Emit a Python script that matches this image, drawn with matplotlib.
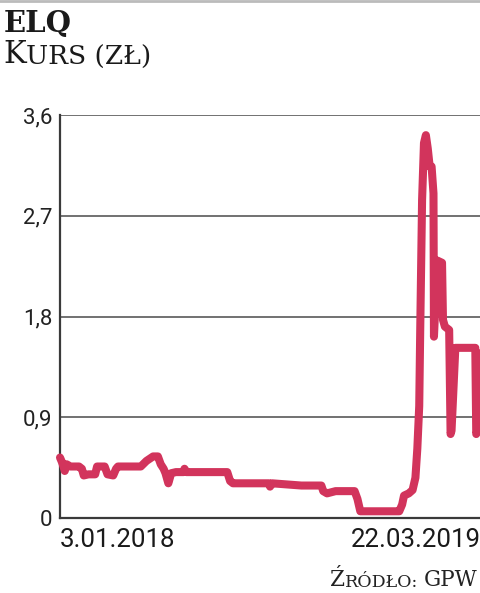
import matplotlib.pyplot as plt
from matplotlib.lines import Line2D

# days since 3.01.2018 and closing price (zl)
days = [0, 2, 4, 5, 7, 11, 20, 23, 25, 30, 37, 39, 47, 50, 56, 59, 61,
        85, 91, 98, 103, 106, 109, 111, 114, 117, 122, 130, 131, 133,
        176, 179, 182, 220, 221, 223, 254, 275, 277, 281, 290, 310, 313,
        316, 354, 357, 360, 362, 367, 371, 374, 376, 378, 379, 381, 383,
        385, 387, 389, 391, 393, 393.5, 397, 402, 403, 405, 409.5, 411,
        412, 416, 437, 438, 439.5, 441.5]
price = [0.54, 0.50, 0.45, 0.42, 0.48, 0.46, 0.46, 0.44, 0.38, 0.39, 0.39,
         0.46, 0.46, 0.39, 0.38, 0.44, 0.46, 0.46, 0.51, 0.55, 0.55, 0.48,
         0.44, 0.40, 0.31, 0.40, 0.41, 0.41, 0.44, 0.41, 0.41, 0.33, 0.31,
         0.31, 0.28, 0.31, 0.29, 0.29, 0.24, 0.22, 0.24, 0.24, 0.17, 0.06,
         0.06, 0.06, 0.12, 0.20, 0.22, 0.25, 0.36, 0.62, 1.00, 1.65, 2.84,
         3.35, 3.42, 3.30, 3.14, 3.14, 2.90, 1.62, 2.30, 2.28, 1.77, 1.71,
         1.68, 0.75, 0.78, 1.52, 1.52, 0.75, 0.78, 1.47]

yticks = [0, 0.9, 1.8, 2.7, 3.6]
ylabels = ['0', '0,9', '1,8', '2,7', '3,6']
xlabels = ['3.01.2018', '22.03.2019']

sans = ['Roboto', 'DejaVu Sans']
serif = ['DejaVu Serif']

fig = plt.figure(figsize=(4.81, 5.93), dpi=100)
ax = fig.add_axes([60 / 481, 1 - 518 / 593, 1 - 60 / 481, 403 / 593])

ax.plot(days, price, color='#d2345c', linewidth=5.8, solid_capstyle='round',
        solid_joinstyle='round', clip_on=False, zorder=3)

ax.set_xlim(0, 443)
ax.set_ylim(0, 3.6)
ax.set_yticks(yticks)
ax.set_yticklabels(ylabels, family=sans, fontsize=16, color='#222222')
ax.set_xticks([0, 443])
ax.set_xticklabels(xlabels, family=sans, fontsize=18.6, color='#1a1a1a')
ax.get_xticklabels()[0].set_ha('left')
ax.get_xticklabels()[1].set_ha('right')
ax.tick_params(length=0)
ax.tick_params(axis='y', pad=5.5)
ax.tick_params(axis='x', pad=7)
ax.grid(axis='y', color='#4a4a4a', linewidth=1.1)
ax.set_axisbelow(True)
for s in ['top', 'right']:
    ax.spines[s].set_visible(False)
for s in ['left', 'bottom']:
    ax.spines[s].set_color('#3a3a3a')
    ax.spines[s].set_linewidth(1.6)

# header
fig.add_artist(Line2D([0, 1], [0.998, 0.998], color='#bbbbbb', linewidth=2))
fig.text(4 / 481, 1 - 32 / 593, 'ELQ', family=serif, fontweight='bold',
         fontsize=21, color='#1a1a1a', va='baseline')
k = fig.text(3 / 481, 1 - 70 / 593, 'K', family=serif, fontsize=22,
             color='#1a1a1a', va='bottom')
ax.annotate('URS (ZŁ)', xy=(1, 0), xycoords=k, family=serif, fontsize=19,
            color='#1a1a1a', va='bottom', annotation_clip=False)

# source, built from the right in small caps
gpw = fig.text(478 / 481, 2 / 593, 'GPW', family=serif,
               fontsize=15.5, color='#222222', ha='right', va='bottom')
mid = ax.annotate('RÓDŁO:', xy=(0, 0), xycoords=gpw, xytext=(-4, 0),
                  textcoords='offset points', family=serif, fontsize=12.5,
                  color='#222222', ha='right', va='bottom',
                  annotation_clip=False)
ax.annotate('Ź', xy=(0, 0), xycoords=mid, family=serif, fontsize=15.5,
            color='#222222', ha='right', va='bottom', annotation_clip=False)

plt.savefig('out.png', dpi=100)
